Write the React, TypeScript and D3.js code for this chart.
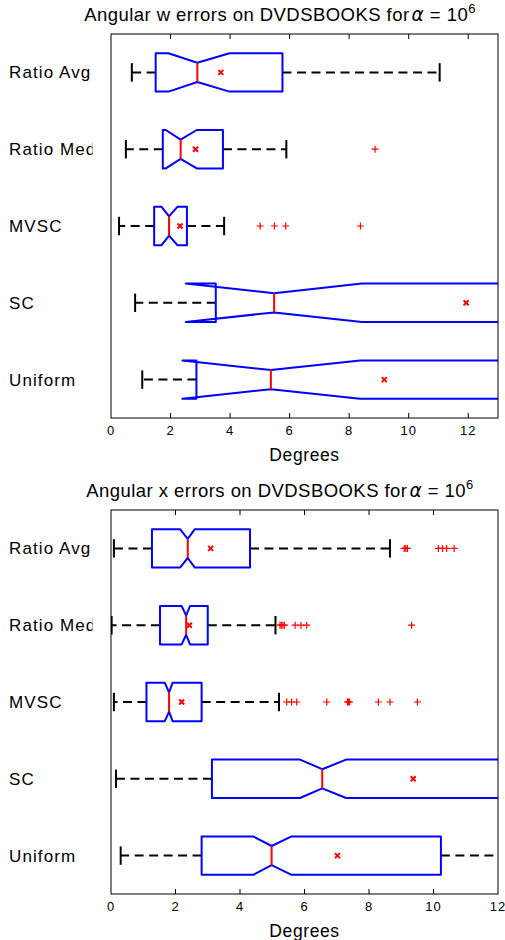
import React, { useEffect } from "react";
import * as d3 from "d3";

const categories = ["Ratio Avg", "Ratio Med", "MVSC", "SC", "Uniform"];
const xTicks = [0, 2, 4, 6, 8, 10, 12];

// Top chart: angular w errors
const wLow = [0.7, 0.5, 0.27, 0.81, 1.05];
const wQ1 = [1.5, 1.74, 1.45, 3.52, 2.87];
const wNotchLo = [1.93, 1.84, 1.7, 2.51, 2.4];
const wMedian = [2.9, 2.34, 1.95, 5.48, 5.37];
const wNotchHi = [3.98, 2.88, 2.23, 8.43, 8.37];
const wQ3 = [5.76, 3.76, 2.55, 14.5, 14.2];
const wHigh = [11.04, 5.89, 3.8, 30, 28];
const wMean = [3.69, 2.84, 2.32, 11.93, 9.18];
const wOutliers: number[][] = [[], [8.87], [5.01, 5.49, 5.87, 8.38], [], []];

// Bottom chart: angular x errors
const xLow = [0.09, 0.02, 0.09, 0.155, 0.3];
const xQ1 = [1.27, 1.52, 1.1, 3.13, 2.81];
const xNotchLo = [2.14, 2.19, 1.67, 5.86, 4.41];
const xMedian = [2.38, 2.33, 1.8, 6.55, 4.98];
const xNotchHi = [2.6, 2.45, 1.91, 7.29, 5.6];
const xQ3 = [4.31, 3.0, 2.81, 13.5, 10.23];
const xHigh = [8.65, 5.1, 5.21, 26, 17];
const xMean = [3.09, 2.43, 2.19, 9.37, 7.02];
const xOutliers: number[][] = [
  [9.09, 9.14, 9.19, 10.15, 10.28, 10.41, 10.64],
  [5.24, 5.28, 5.33, 5.38, 5.71, 5.89, 6.07, 9.32],
  [5.45, 5.6, 5.76, 6.69, 7.33, 7.36, 7.4, 8.29, 8.65, 9.5],
  [],
  [],
];

const FONT = "'Liberation Sans', Arial, Helvetica, sans-serif";

type ChartProps = {
  id: string;
  top: number;
  xMax: number;
  varName: string;
  low: number[];
  q1: number[];
  nlo: number[];
  med: number[];
  nhi: number[];
  q3: number[];
  high: number[];
  mean: number[];
  outliers: number[][];
};

const LEFT = 111;
const RIGHT = 498;
const PLOT_H = 384;

function BoxChart(p: ChartProps) {
  const bottom = p.top + PLOT_H;
  const x = d3.scaleLinear().domain([0, p.xMax]).range([LEFT, RIGHT]);
  const y = d3.scaleBand().domain(categories).range([p.top, bottom]).padding(0);
  const bw = y.bandwidth();
  const half = bw * 0.25;
  const inset = bw * 0.125;
  const capHalf = bw * 0.12;
  const clipId = `clip-${p.id}`;
  const labelClip = `lclip-${p.id}`;

  return (
    <g>
      <defs>
        <clipPath id={clipId}>
          <rect x={LEFT} y={p.top} width={RIGHT - LEFT} height={PLOT_H} />
        </clipPath>
        <clipPath id={labelClip}>
          <rect x={0} y={p.top} width={92.6} height={PLOT_H} />
        </clipPath>
      </defs>
      {/* title */}
      <text
        x={280}
        y={p.top - 13}
        textAnchor="middle"
        fontFamily={FONT}
        fontSize={18.5}
        letterSpacing={0.45}
        fill="#000"
      >
        {`Angular ${p.varName} errors on DVDSBOOKS for`}
        <tspan fontFamily="'DejaVu Sans', sans-serif" fontStyle="italic" dx={2}>α</tspan>
        <tspan>{" = 10"}</tspan>
        <tspan fontSize={13} dy={-8}>6</tspan>
      </text>
      {/* category labels */}
      <g clipPath={`url(#${labelClip})`}>
        {categories.map((c) => (
          <text
            key={c}
            x={9}
            y={(y(c) as number) + bw / 2 + 6}
            fontFamily={FONT}
            fontSize={17}
            letterSpacing={1.1}
            fill="#000"
          >
            {c}
          </text>
        ))}
      </g>
      <g clipPath={`url(#${clipId})`}>
        {categories.map((c, i) => {
          const cy = (y(c) as number) + bw / 2;
          const t = cy - half;
          const b = cy + half;
          const path = d3.path();
          path.moveTo(x(p.q1[i]), t);
          path.lineTo(x(p.nlo[i]), t);
          path.lineTo(x(p.med[i]), cy - inset);
          path.lineTo(x(p.nhi[i]), t);
          path.lineTo(x(p.q3[i]), t);
          path.lineTo(x(p.q3[i]), b);
          path.lineTo(x(p.nhi[i]), b);
          path.lineTo(x(p.med[i]), cy + inset);
          path.lineTo(x(p.nlo[i]), b);
          path.lineTo(x(p.q1[i]), b);
          path.closePath();
          const m = x(p.mean[i]);
          return (
            <g key={c}>
              {/* whiskers */}
              <line x1={x(p.q1[i])} x2={x(p.low[i])} y1={cy} y2={cy} stroke="#000" strokeWidth={2} strokeDasharray="9,5.5" />
              <line x1={x(p.q3[i])} x2={x(p.high[i])} y1={cy} y2={cy} stroke="#000" strokeWidth={2} strokeDasharray="9,5.5" />
              <line x1={x(p.low[i])} x2={x(p.low[i])} y1={cy - capHalf} y2={cy + capHalf} stroke="#000" strokeWidth={2} />
              <line x1={x(p.high[i])} x2={x(p.high[i])} y1={cy - capHalf} y2={cy + capHalf} stroke="#000" strokeWidth={2} />
              {/* box */}
              <path d={path.toString()} fill="none" stroke="#0000FF" strokeWidth={2} strokeLinejoin="round" />
              {/* median */}
              <line x1={x(p.med[i])} x2={x(p.med[i])} y1={cy - inset} y2={cy + inset} stroke="#FF0000" strokeWidth={2} />
              {/* mean */}
              <path d={`M${m - 2.5},${cy - 2.5}L${m + 2.5},${cy + 2.5}M${m - 2.5},${cy + 2.5}L${m + 2.5},${cy - 2.5}`} stroke="#FF0000" strokeWidth={2} fill="none" />
              {/* outliers */}
              {p.outliers[i].map((o, k) => {
                const ox = x(o);
                return (
                  <path key={k} d={`M${ox - 3.5},${cy}L${ox + 3.5},${cy}M${ox},${cy - 3.5}L${ox},${cy + 3.5}`} stroke="#FF0000" strokeWidth={1.2} fill="none" />
                );
              })}
            </g>
          );
        })}
      </g>
      {/* axes box */}
      <rect x={LEFT} y={p.top} width={RIGHT - LEFT} height={PLOT_H} fill="none" stroke="#000" strokeWidth={1} />
      {x.ticks(p.xMax / 2).filter((v) => v > 0 && v < p.xMax).map((v) => (
        <g key={v}>
          <line x1={x(v)} x2={x(v)} y1={bottom} y2={bottom - 5} stroke="#000" strokeWidth={1} />
          <line x1={x(v)} x2={x(v)} y1={p.top} y2={p.top + 5} stroke="#000" strokeWidth={1} />
        </g>
      ))}
      {xTicks.map((v) => (
        <text key={v} x={x(v)} y={bottom + 16.5} textAnchor="middle" fontFamily={FONT} fontSize={13} letterSpacing={1} fill="#000">
          {v}
        </text>
      ))}
      <text x={(LEFT + RIGHT) / 2} y={bottom + 43} textAnchor="middle" fontFamily={FONT} fontSize={17.5} letterSpacing={0.6} fill="#000">
        Degrees
      </text>
    </g>
  );
}

export default function App() {
  useEffect(() => {
    document.body.style.margin = "0";
  }, []);
  return (
    <svg width={505} height={940} style={{ display: "block", background: "#fff" }}>
      <rect width={505} height={940} fill="#fff" />
      <BoxChart id="w" top={34} xMax={13} varName="w" low={wLow} q1={wQ1} nlo={wNotchLo} med={wMedian} nhi={wNotchHi} q3={wQ3} high={wHigh} mean={wMean} outliers={wOutliers} />
      <BoxChart id="x" top={510} xMax={12} varName="x" low={xLow} q1={xQ1} nlo={xNotchLo} med={xMedian} nhi={xNotchHi} q3={xQ3} high={xHigh} mean={xMean} outliers={xOutliers} />
    </svg>
  );
}
